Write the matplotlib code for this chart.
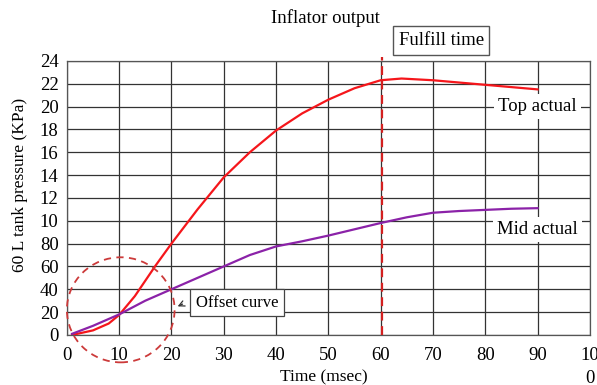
import numpy as np
import matplotlib.pyplot as plt
from matplotlib.patches import Ellipse

plt.rcParams['font.family'] = ['Liberation Serif', 'DejaVu Serif']

# Data
time_top = [1, 5, 8, 10, 13, 17, 20, 25, 30, 35, 40, 45, 50, 55, 60, 64, 70, 75, 80, 85, 90]
top_actual = [0.0, 0.4, 1.0, 1.75, 3.4, 6.1, 8.0, 11.0, 13.8, 16.0, 17.9, 19.4, 20.6, 21.6, 22.3, 22.45, 22.3, 22.1, 21.9, 21.7, 21.5]
time_mid = [1, 5, 10, 15, 20, 25, 30, 35, 40, 45, 50, 55, 60, 65, 70, 75, 80, 85, 90]
mid_actual = [0.1, 0.8, 1.8, 3.0, 4.0, 5.0, 6.0, 7.0, 7.75, 8.2, 8.7, 9.25, 9.8, 10.3, 10.7, 10.85, 10.95, 11.05, 11.1]

x_ticks = [0, 10, 20, 30, 40, 50, 60, 70, 80, 90, 100]
x_labels = ['0', '10', '20', '30', '40', '50', '60', '70', '80', '90', '10\n0']
y_ticks = [0, 2, 4, 6, 8, 10, 12, 14, 16, 18, 20, 22, 24]
y_labels = ['0', '20', '40', '60', '80', '10', '12', '14', '16', '18', '20', '22', '24']
fulfill_time = 60.3

fig = plt.figure(figsize=(5.97, 3.85), dpi=100)
ax = fig.add_axes([0.112, 0.130, 0.876, 0.712])

ax.plot(time_top, top_actual, color='#f5161b', lw=1.6, zorder=4)
ax.plot(time_mid, mid_actual, color='#8b22a8', lw=1.6, zorder=4)
ax.axvline(fulfill_time, ymin=0, ymax=1.015, color='#d42020', lw=1.6, ls=(0, (4, 2.5)), clip_on=False, zorder=5)

ax.set_xlim(0, 100)
ax.set_ylim(0, 24)
ax.set_xticks(x_ticks)
ax.set_xticklabels(x_labels, fontsize=13.5, va='top', linespacing=1.45)
ax.set_yticks(y_ticks)
ax.set_yticklabels(y_labels, fontsize=13.5)
ax.tick_params(axis='x', length=0, pad=9)
ax.tick_params(axis='y', length=0, pad=6)
ax.grid(True, color='#333333', lw=0.9)
for s in ax.spines.values():
    s.set_color('#555555')
    s.set_linewidth(0.9)

# axis titles placed as in the original
fig.text(0.543, 0.021, 'Time (msec)', fontsize=12.5, ha='center', va='center')
fig.text(0.034, 0.52, '60 L tank pressure (KPa)', fontsize=12.5, ha='center', va='center', rotation=90)

# annotations
ax.text(90, 20, 'Top actual', fontsize=13.5, ha='center', va='center',
        bbox=dict(facecolor='white', edgecolor='none', pad=3), zorder=3)
ax.text(90, 9.2, 'Mid actual', fontsize=13.5, ha='center', va='center',
        bbox=dict(facecolor='white', edgecolor='none', pad=3), zorder=3)
ax.text(32.5, 2.8, 'Offset curve', fontsize=12, ha='center', va='center',
        bbox=dict(facecolor='white', edgecolor='#444444', lw=0.9, pad=4), zorder=6)
ax.annotate('', xy=(20.7, 2.4), xytext=(22.6, 2.8),
            arrowprops=dict(arrowstyle='->', color='#333333', lw=0.9), zorder=6)
ax.add_patch(Ellipse((10.3, 2.2), 20.6, 9.2, fill=False, edgecolor='#cc3a3a',
                     lw=1.3, ls=(0, (4, 3)), clip_on=False, zorder=5))

fig.text(0.545, 0.953, 'Inflator output', fontsize=13.5, ha='center', va='center')
fig.text(0.739, 0.895, 'Fulfill time', fontsize=13.5, ha='center', va='center',
         bbox=dict(facecolor='white', edgecolor='#555555', lw=1.0, pad=4))

fig.savefig('out.png', dpi=100)
